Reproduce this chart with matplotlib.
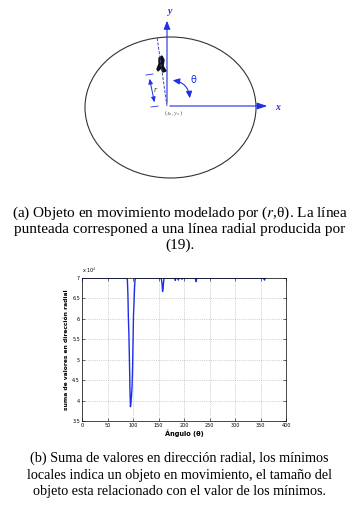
import matplotlib
matplotlib.use("Agg")
import matplotlib.pyplot as plt
from matplotlib.patches import Ellipse, FancyArrowPatch, Polygon

plt.rcParams['mathtext.fontset'] = 'stix'

# radial sum vs angle (values x 10^4)
angles = [0, 88, 89, 90, 91, 92, 93, 94, 95, 96, 97, 98, 99, 100, 101, 102, 103, 104, 105,
          155, 156, 157, 158, 159, 160, 161, 182, 183, 184, 188, 189, 190, 195, 196, 197,
          222, 223, 224, 225, 356, 357, 358, 359, 360]
values = [7.0, 7.0, 6.95, 6.6, 6.0, 5.6, 5.0, 4.3, 3.85, 3.95, 4.1, 4.3, 4.7, 5.4, 6.1, 6.4, 6.75, 6.95, 7.0,
          7.0, 6.95, 6.85, 6.67, 6.75, 6.9, 7.0, 7.0, 6.94, 7.0, 7.0, 6.95, 7.0, 7.0, 6.97, 7.0,
          7.0, 6.95, 6.91, 7.0, 7.0, 6.97, 6.95, 7.0, 7.0]
xticks = [0, 50, 100, 150, 200, 250, 300, 350, 400]
yticks = [3.5, 4, 4.5, 5, 5.5, 6, 6.5, 7]
ytick_labels = ['3.5', '4', '4.5', '5', '5.5', '6', '6.5', '7']

cap_a = ["(a) Objeto en movimiento modelado por ($\\mathit{r}$,θ). La línea",
         "punteada corresponed a una línea radial producida por",
         "(19)."]
cap_b = ["(b) Suma de valores en dirección radial, los mínimos",
         "locales indica un objeto en movimiento, el tamaño del",
         "objeto esta relacionado con el valor de los mínimos."]

W, H = 359, 514
blue = '#1f2ee8'
fig = plt.figure(figsize=(W / 100, H / 100), dpi=100)

# ---- top diagram, drawn in pixel coordinates
ax = fig.add_axes([0, 0, 1, 1])
ax.set_xlim(0, W)
ax.set_ylim(H, 0)
ax.axis('off')

ax.add_patch(Ellipse((170.5, 107.5), 171, 141, fill=False, ec='#333333', lw=0.8))

ox, oy = 167, 106
ax.add_patch(FancyArrowPatch((ox, oy), (ox, 18), arrowstyle='-|>,head_length=5,head_width=2',
                             color=blue, lw=0.8))
ax.add_patch(FancyArrowPatch((ox, oy), (270, oy), arrowstyle='-|>,head_length=6,head_width=2',
                             color=blue, lw=0.8))
ax.text(170, 12, 'y', color=blue, fontsize=7, fontweight='bold', ha='center', va='center',
        family='Liberation Serif', style='italic')
ax.text(278, 108, 'x', color=blue, fontsize=7, fontweight='bold', ha='center', va='center',
        family='Liberation Serif', style='italic')

# dashed radial line
ax.plot([ox, 157], [oy, 37], ls=(0, (3, 1.5)), color='#3b4bb0', lw=0.7)

# object
ax.add_patch(Polygon([(159, 58), (162, 56), (164, 60), (163, 66), (166, 71), (163, 72),
                      (161, 68), (158, 71), (157, 69), (159, 64)], closed=True, color='#111111'))

# r dimension
ax.add_patch(FancyArrowPatch((149, 76), (155, 105), arrowstyle='<|-|>,head_length=3,head_width=1.3',
                             color=blue, lw=0.7))
ax.plot([146, 153], [75, 74], color=blue, lw=0.6)
ax.plot([151, 158], [107, 106], color=blue, lw=0.6)
ax.text(155, 90, 'r', color='#333333', fontsize=6, ha='center', va='center',
        family='Liberation Serif', style='italic')

# theta arc
ax.add_patch(FancyArrowPatch((170, 80), (190, 101), connectionstyle='arc3,rad=-0.45',
                             arrowstyle='<|-|>,head_length=4,head_width=1.8', color=blue, lw=0.8))
ax.text(193, 80, 'θ', color=blue, fontsize=7, ha='center', va='center', family='DejaVu Sans')
ax.text(173, 113, '$(x_o, y_o)$', color='#555555', fontsize=4.5, ha='center', va='center')

# captions
for i, line in enumerate(cap_a):
    ax.text(W / 2, 213 + i * 16, line, fontsize=11, family='Liberation Serif',
            ha='center', va='center')
for i, line in enumerate(cap_b):
    ax.text(W / 2, 458 + i * 17, line, fontsize=10.2, family='Liberation Serif',
            ha='center', va='center')

# ---- bottom chart
ax2 = fig.add_axes([82 / W, 1 - 421 / H, (286 - 82) / W, (421 - 278) / H])
ax2.plot(angles, values, color=blue, lw=1.0)
ax2.set_xlim(0, 400)
ax2.set_ylim(3.5, 7)
ax2.set_xticks(xticks)
ax2.set_yticks(yticks)
ax2.set_yticklabels(ytick_labels)
ax2.tick_params(direction='in', length=2, width=0.4, labelsize=3.5, pad=1.5,
                top=True, right=True)
ax2.grid(True, ls=':', color='#aaaaaa', lw=0.5)
for s in ax2.spines.values():
    s.set_linewidth(0.5)
ax2.set_xlabel('Ángulo (θ)', fontsize=4.8, fontweight='bold', labelpad=1)
ax2.set_ylabel('suma de valores en dirección radial', fontsize=4.3, fontweight='bold', labelpad=2)
ax2.text(0.0, 1.015, 'x 10$^4$', transform=ax2.transAxes, fontsize=3.5, va='bottom')

fig.savefig('out.png', dpi=100)
